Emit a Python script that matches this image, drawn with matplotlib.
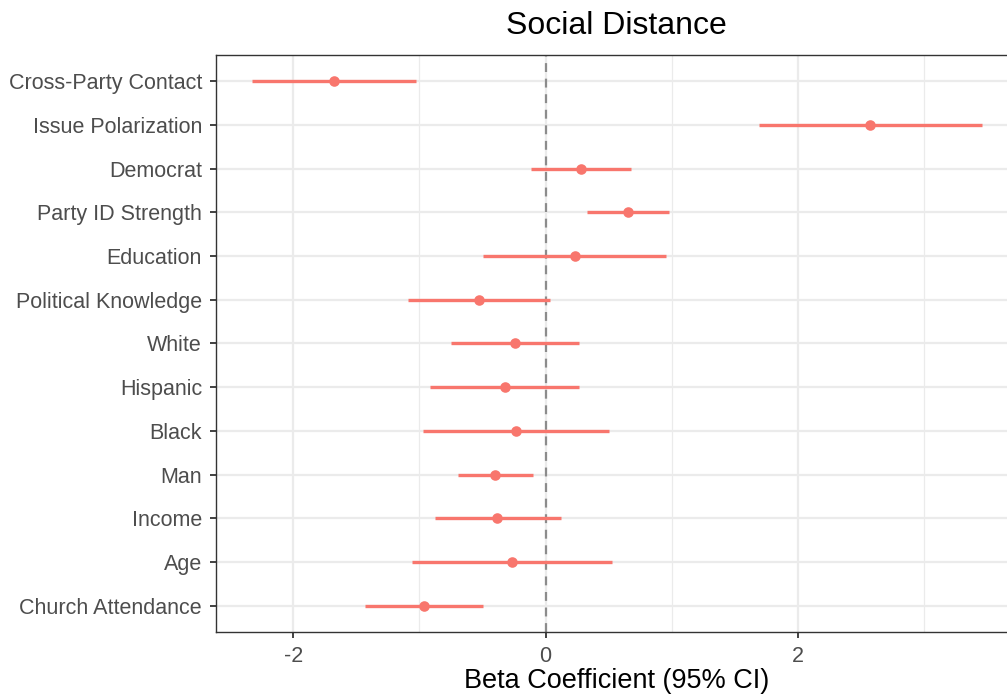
import numpy as np
import matplotlib
matplotlib.use("Agg")
import matplotlib.pyplot as plt

# Coefficient estimates (top to bottom)
terms = ['Cross-Party Contact', 'Issue Polarization', 'Democrat', 'Party ID Strength',
         'Education', 'Political Knowledge', 'White', 'Hispanic', 'Black', 'Man',
         'Income', 'Age', 'Church Attendance']
estimate = [-1.675, 2.574, 0.278, 0.656, 0.230, -0.529, -0.246, -0.325, -0.235,
            -0.402, -0.384, -0.267, -0.962]
ci_low = [-2.325, 1.693, -0.119, 0.331, -0.495, -1.093, -0.754, -0.915, -0.971,
          -0.698, -0.881, -1.061, -1.432]
ci_high = [-1.024, 3.458, 0.680, 0.979, 0.955, 0.037, 0.267, 0.265, 0.505,
           -0.098, 0.122, 0.526, -0.493]

plt.rcParams['font.family'] = ['Liberation Sans', 'DejaVu Sans']

fig = plt.figure(figsize=(10.07, 6.96), dpi=100)
# panel runs past the right edge, as in the reference
ax = fig.add_axes([0.2145, 0.092, 0.7964, 0.829])

ypos = np.arange(len(terms))[::-1]
col = '#F8766D'

ax.hlines(ypos, ci_low, ci_high, color=col, linewidth=2.4, zorder=3)
ax.scatter(estimate, ypos, color=col, s=58, zorder=4, linewidths=0)
ax.axvline(0, color='#8c8c8c', linestyle=(0, (4, 3)), linewidth=1.6, zorder=2)

# ggplot-like expansion
lo, hi = min(ci_low), max(ci_high)
pad = 0.05 * (hi - lo)
ax.set_xlim(lo - pad, hi + pad)
ax.set_ylim(-0.6, len(terms) - 0.4)

ax.set_xticks([-2, 0, 2])
ax.set_xticklabels(['-2', '0', '2'])
ax.set_xticks([-1, 1, 3], minor=True)
ax.set_yticks(ypos)
ax.set_yticklabels(terms)

ax.grid(True, which='major', color='#EBEBEB', linewidth=1.6, zorder=0)
ax.grid(True, which='minor', axis='x', color='#EBEBEB', linewidth=0.9, zorder=0)
ax.set_axisbelow(True)

ax.tick_params(axis='both', which='major', length=4, width=1.3, color='#333333',
               labelcolor='#4D4D4D', labelsize=15.5)
ax.tick_params(axis='y', which='major', pad=6)
ax.tick_params(axis='x', which='major', pad=6)
ax.tick_params(axis='x', which='minor', length=0)
for s in ax.spines.values():
    s.set_color('#333333')
    s.set_linewidth(1.0)

ax.set_xlabel('Beta Coefficient (95% CI)', fontsize=19.5, color='black', labelpad=1)
fig.text(0.612, 0.963, 'Social Distance', fontsize=23, ha='center', va='center')

fig.savefig('out.png', dpi=100)
